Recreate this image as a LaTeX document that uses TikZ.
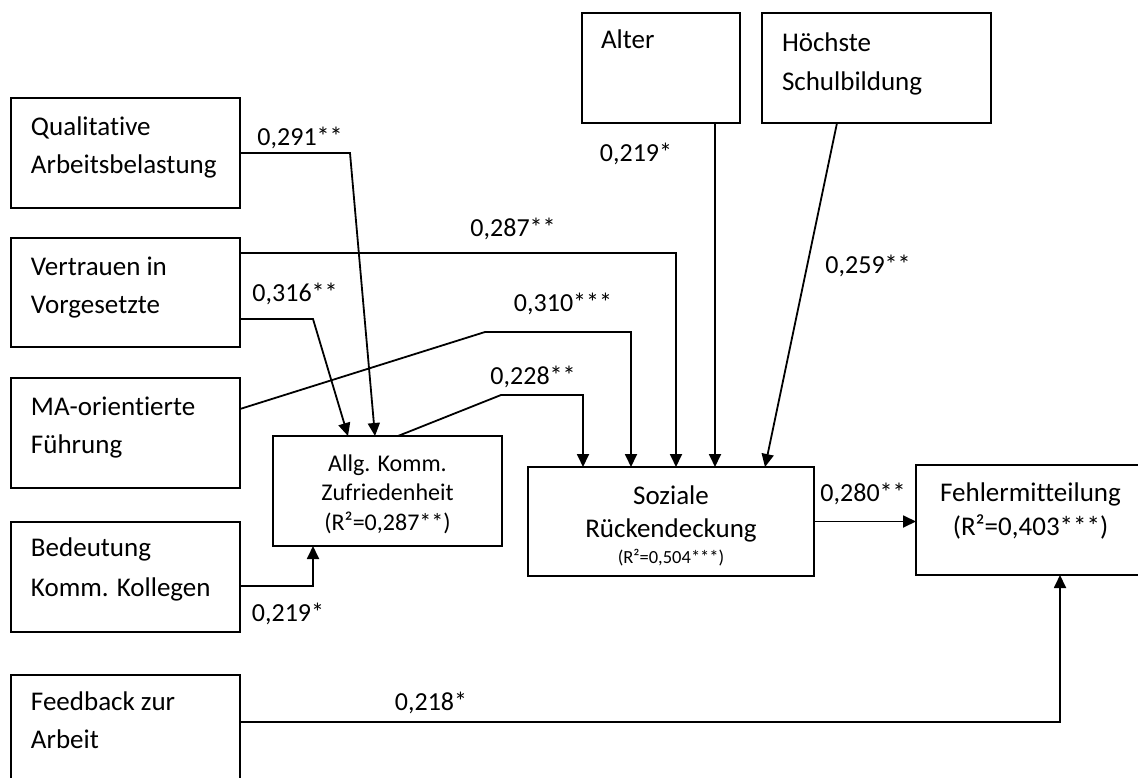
\documentclass[tikz,border=0pt]{standalone}
\usepackage{fontspec}
\setmainfont{Carlito}[Ligatures={NoCommon}]
\usetikzlibrary{arrows.meta}
\newcommand{\bx}[7]{\begin{minipage}[c][#2][t]{#1}\fontsize{#3}{#4}\selectfont#6\leavevmode\rule{0pt}{#5}#7\par\end{minipage}}
\newcommand{\lft}{\leftskip=20pt\relax}
\begin{document}
\begin{tikzpicture}[x=1pt,y=-1pt,
  box/.style={draw, line width=1.6pt, inner sep=0pt, outer sep=0pt},
  arr/.style={line width=1.8pt, -{Triangle[length=13pt,width=12pt]}},
  lab/.style={anchor=base, inner sep=0pt, font=\fontsize{26}{30}\selectfont}]
\useasboundingbox (0,0) rectangle (1138,778);
\fill[white] (0,0) rectangle (1138,778);
\clip (0,0) rectangle (1138,778);

% boxes
\node[box] (q) at (125.5,153) {\bx{229pt}{110pt}{27}{38}{37.5pt}{\lft}{Qualitative\\Arbeitsbelastung}};
\node[box] (v) at (125.5,292.5) {\bx{229pt}{109pt}{27}{38}{37.5pt}{\lft}{Vertrauen in\\Vorgesetzte}};
\node[box] (m) at (125.5,433) {\bx{229pt}{110pt}{27}{38}{37.5pt}{\lft}{MA-orientierte\\Führung}};
\node[box] (b) at (125.5,577) {\bx{229pt}{110pt}{27}{40}{34.5pt}{\lft}{Bedeutung\\Komm. Kollegen}};
\node[box] (fb) at (125.5,730) {\bx{229pt}{110pt}{27}{38}{35.5pt}{\lft}{Feedback zur\\Arbeit}};
\node[box] (al) at (661,68) {\bx{158pt}{110pt}{27}{38}{35.5pt}{\leftskip=19pt\relax}{Alter}};
\node[box] (h) at (876.5,68) {\bx{229pt}{110pt}{27}{39}{38.5pt}{\lft}{Höchste\\Schulbildung}};
\node[box] (a) at (387.5,491) {\bx{229pt}{110pt}{24}{29.5}{35pt}{\centering}{Allg. Komm.\\Zufriedenheit\\(R²=0,287**)}};
\node[box] (s) at (671,521.5) {\bx{286pt}{109pt}{27}{33}{37pt}{\centering}{Soziale\\Rückendeckung\\[-6.5pt]{\fontsize{18.5}{20}\selectfont(R²=0,504***)}}};
\node[box] (f) at (1030.5,520) {\bx{229pt}{110pt}{27}{34}{36.5pt}{\centering}{Fehlermitteilung\\(R²=0,403***)}};

% connectors
\draw[arr] (q.east) -- ++(110,0) -- ([xshift=102pt]a.north west);
\draw[arr] ([yshift=-26.5pt]v.east) -- ++(73,0) -- ([xshift=75pt]a.north west);
\draw[arr] ([yshift=39.5pt]v.east) -| ([xshift=148pt]s.north west);
\draw[arr] ([yshift=24pt]m.east) -- ++(245,-77) -| ([xshift=103pt]s.north west);
\draw[arr] ([xshift=125pt]a.north west) -- ++(103,-41) -| ([xshift=55pt]s.north west);
\draw[arr] ([yshift=-9pt]b.east) -| ([xshift=40pt]a.south west);
\draw[arr] ([xshift=133pt]al.south west) -- ([xshift=133pt]al.south west |- s.north);
\draw[arr] ([xshift=75pt]h.south west) -- ([xshift=237pt]s.north west);
\draw[arr] (s.east) -- (s.east -| f.west);
\draw[arr] ([yshift=8pt]fb.east) -| ([xshift=144pt]f.south west);

% labels
\node[lab] (l291) at (300,145.5) {0,291**};
\node[lab] (l287) at (513,236.5) {0,287**};
\node[lab] (l219a) at (636,161.5) {0,219*};
\node[lab] (l259) at (868,273.5) {0,259**};
\node[lab] (l316) at (295,301.5) {0,316**};
\node[lab] (l310) at (563,311.5) {0,310***};
\node[lab] (l228) at (533,384.5) {0,228**};
\node[lab] (l280) at (863,501.5) {0,280**};
\node[lab] (l219b) at (288,621.5) {0,219*};
\node[lab] (l218) at (431,710.5) {0,218*};
\end{tikzpicture}
\end{document}
